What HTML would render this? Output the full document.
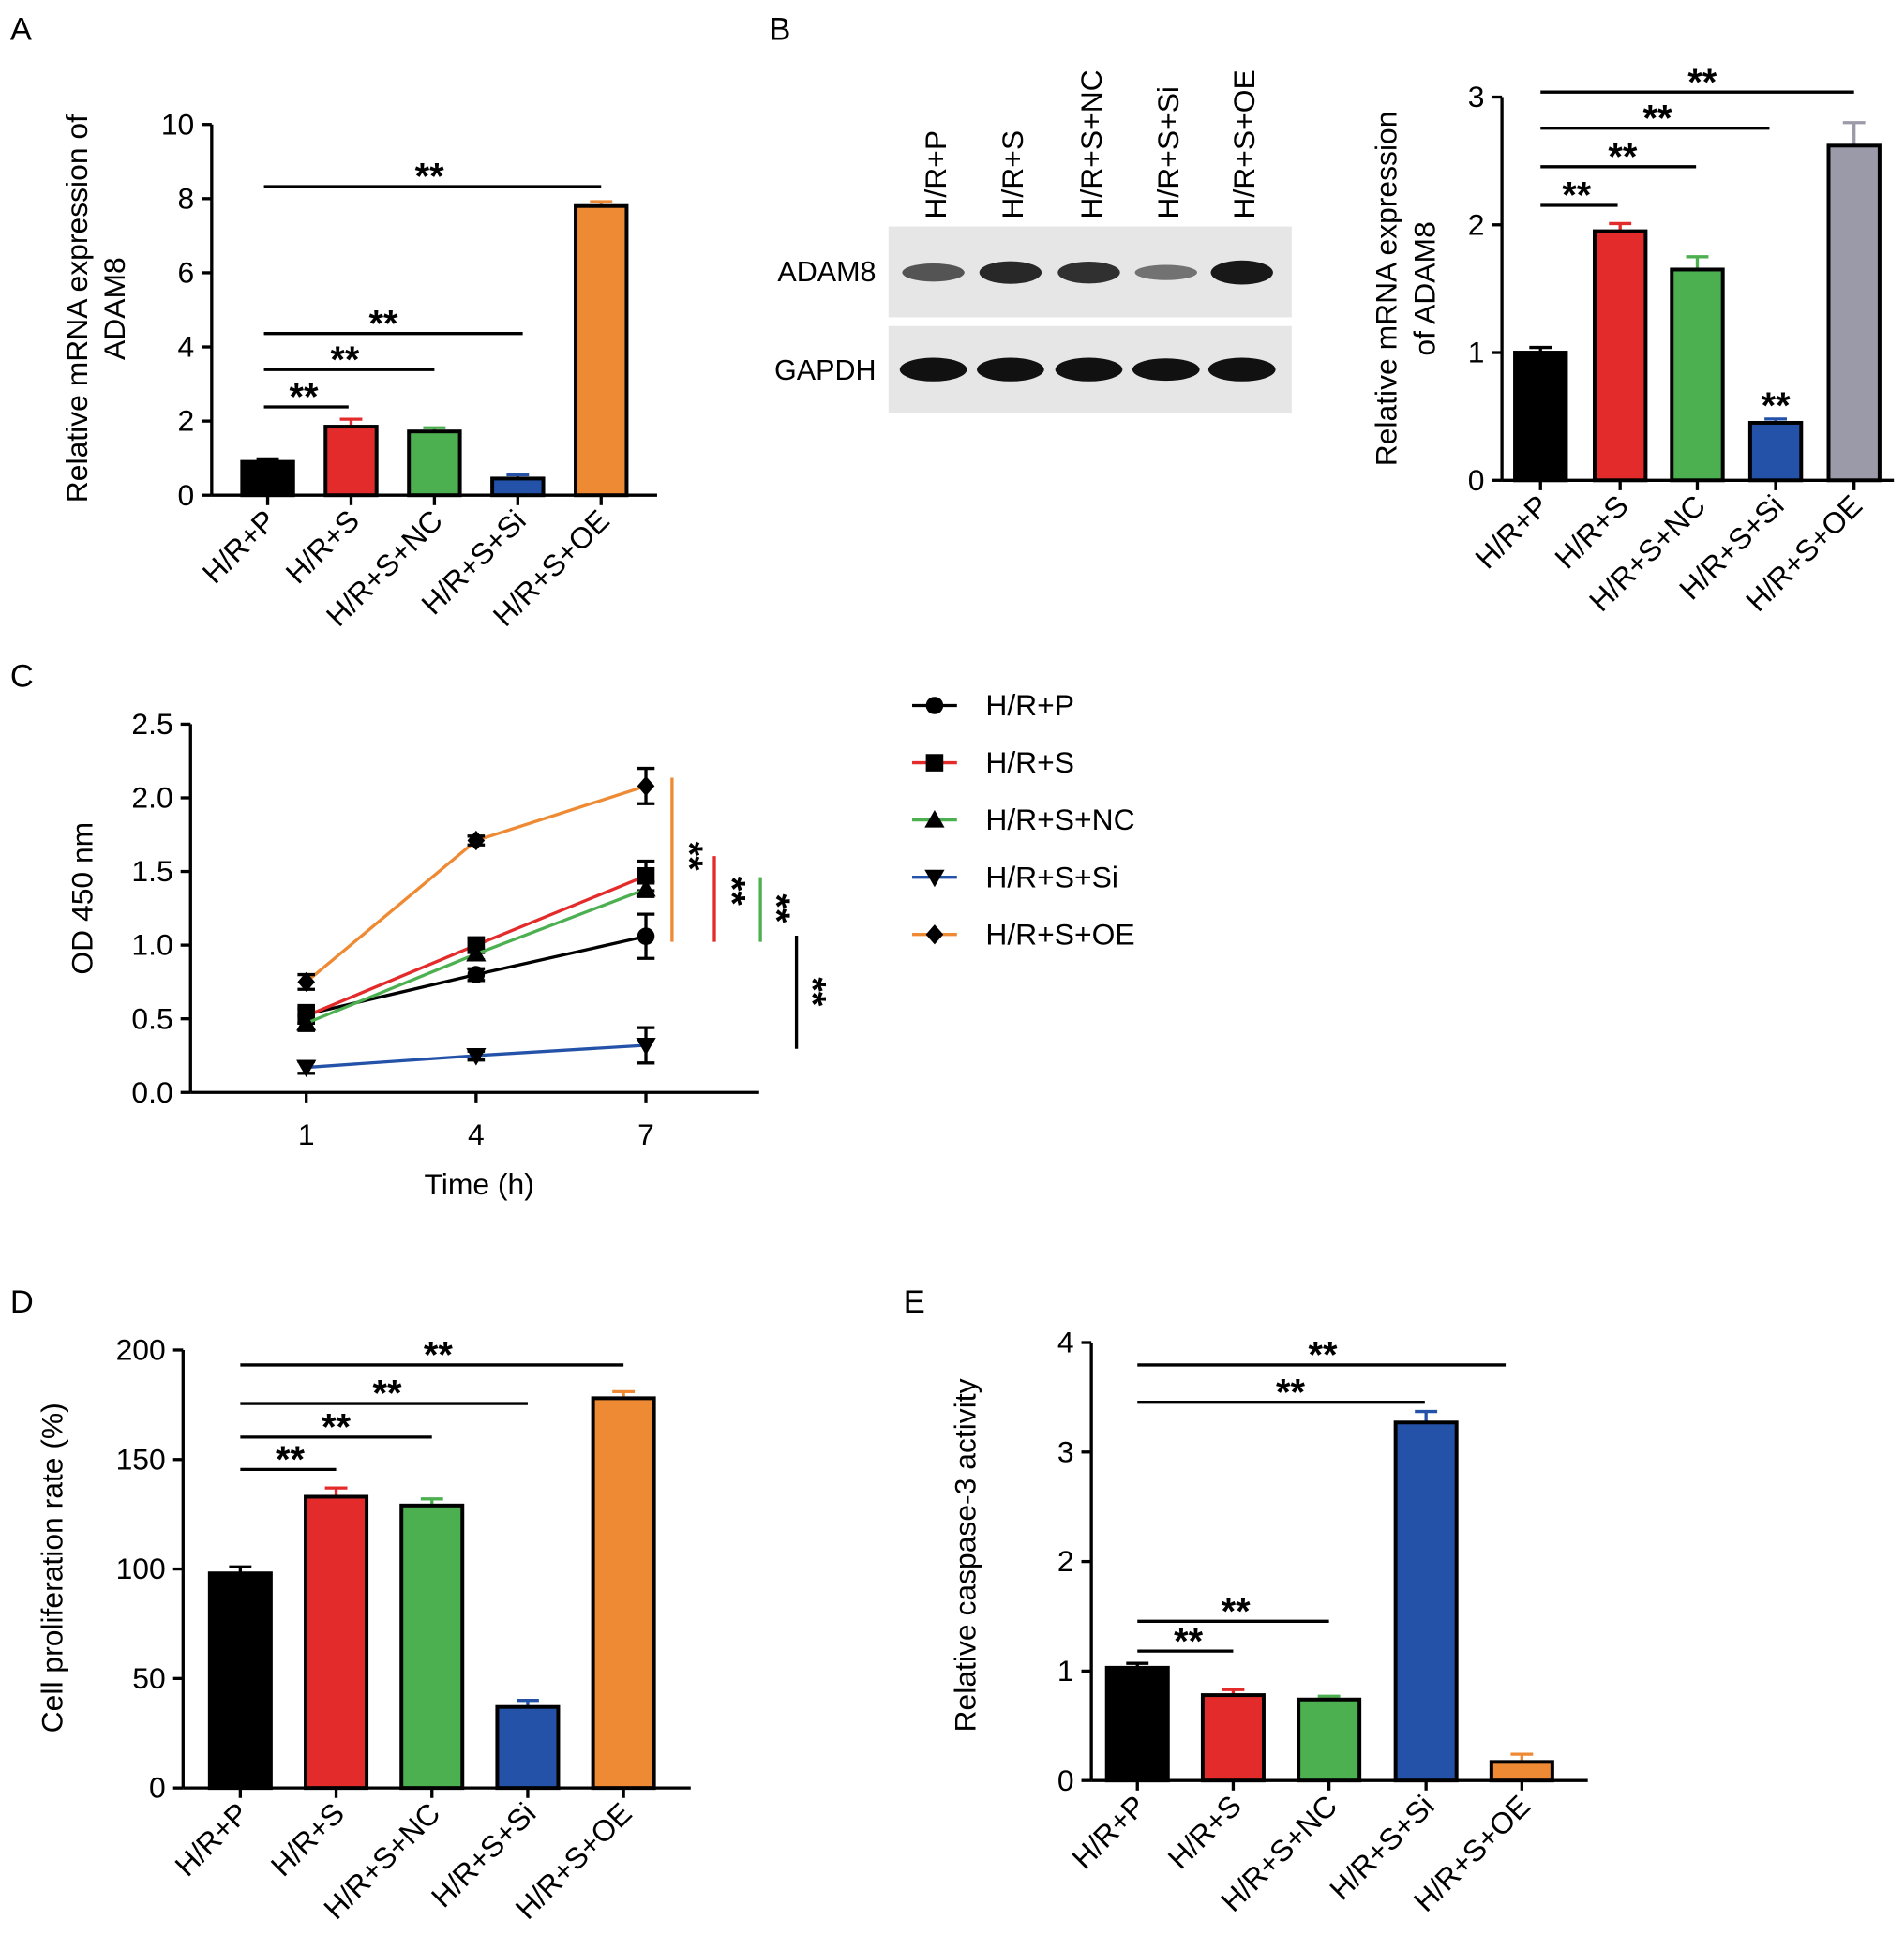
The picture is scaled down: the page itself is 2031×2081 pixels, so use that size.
<!DOCTYPE html>
<html><head><meta charset="utf-8">
<style>
html,body{margin:0;padding:0;background:#fff;}
svg{display:block;font-family:"Liberation Sans",Arial,sans-serif;}
</style></head>
<body>
<svg id="fig" width="2031" height="2081" viewBox="0 0 1530 1568" xmlns="http://www.w3.org/2000/svg">
<rect width="1530" height="1568" fill="#fff"/>
<g font-size="26" fill="#000">
<text x="8" y="32">A</text>
<text x="618" y="32">B</text>
<text x="8" y="552">C</text>
<text x="8" y="1055">D</text>
<text x="726" y="1055">E</text>
</g>
<g id="blot">
<rect x="714" y="182" width="324" height="73" fill="#e6e6e6"/>
<rect x="714" y="262" width="324" height="70" fill="#e6e6e6"/>
<text x="704" y="226" font-size="23" text-anchor="end">ADAM8</text>
<text x="704" y="305" font-size="23" text-anchor="end">GAPDH</text>
</g>
</svg>
<script>
const NS='http://www.w3.org/2000/svg';
const svg=document.getElementById('fig');
function mk(tag,attrs,parent){const e=document.createElementNS(NS,tag);for(const k in attrs)e.setAttribute(k,attrs[k]);(parent||svg).appendChild(e);return e;}
const COLORS=['#000000','#e32b2b','#4caf50','#2352a8','#ef8a34'];
const cats=['H/R+P','H/R+S','H/R+S+NC','H/R+S+Si','H/R+S+OE'];
const FS=24, SS=30;

const aValues=[0.9,1.85,1.72,0.45,7.8];
const aErrors=[0.08,0.2,0.1,0.1,0.12];
const aTicks=[0,2,4,6,8,10];
const bValues=[1.0,1.95,1.65,0.45,2.62];
const bErrors=[0.04,0.06,0.1,0.03,0.18];
const bTicks=[0,1,2,3];
const blotAdam8=[0.55,0.85,0.8,0.35,0.95];
const blotGapdh=[0.95,0.95,0.95,0.9,0.95];
const cTimes=[1,4,7];
const cP=[0.53,0.8,1.06];const cPErr=[0.06,0.04,0.15];
const cS=[0.52,1.0,1.47];const cSErr=[0.05,0.05,0.1];
const cNC=[0.47,0.94,1.38];const cNCErr=[0.05,0.04,0.05];
const cSi=[0.17,0.25,0.32];const cSiErr=[0.04,0.03,0.12];
const cOE=[0.75,1.71,2.08];const cOEErr=[0.05,0.03,0.12];
const cTicks=[0,0.5,1.0,1.5,2.0,2.5];
const dValues=[98,133,129,37,178];
const dErrors=[3,4,3,3,3];
const dTicks=[0,50,100,150,200];
const eValues=[1.03,0.78,0.74,3.27,0.17];
const eErrors=[0.04,0.05,0.03,0.1,0.07];
const eTicks=[0,1,2,3,4];

function barPanel(p){
  const g=mk('g',{});
  
  
  const y=v=>p.y0-(v-p.min)/(p.max-p.min)*(p.y0-p.yTop);
  mk('line',{x1:p.x0,y1:p.yTop,x2:p.x0,y2:p.y0,stroke:'#000','stroke-width':2.5},g);
  mk('line',{x1:p.x0,y1:p.y0,x2:p.x1,y2:p.y0,stroke:'#000','stroke-width':2.5},g);
  p.ticks.forEach(t=>{
    mk('line',{x1:p.x0-8,y1:y(t),x2:p.x0,y2:y(t),stroke:'#000','stroke-width':2.5},g);
    const tx=mk('text',{x:p.x0-14,y:y(t)+8,'font-size':FS,'text-anchor':'end'},g);tx.textContent=t;
    
    
  });
  p.values.forEach((v,i)=>{
    const cx=p.cx[i],c=p.colors[i];
    const e=p.errors[i];
    mk('line',{x1:cx,y1:y(v),x2:cx,y2:y(v+e),stroke:c,'stroke-width':2.5},g);
    mk('line',{x1:cx-9,y1:y(v+e),x2:cx+9,y2:y(v+e),stroke:c,'stroke-width':2.5},g);
    const r=mk('rect',{x:cx-p.bw/2+1.5,y:y(v),width:p.bw-3,height:y(p.min)-y(v),fill:c,stroke:'#000','stroke-width':3},g);
    
    
    mk('line',{x1:cx,y1:p.y0,x2:cx,y2:p.y0+8,stroke:'#000','stroke-width':2.5},g);
    const t=mk('text',{x:0,y:0,'font-size':FS,'text-anchor':'end',transform:`translate(${cx+8},${p.y0+22}) rotate(-45)`},g);
    t.textContent=cats[i];
    
    
  });
  p.sig.forEach(s=>{
    mk('line',{x1:s[0],y1:s[2],x2:s[1],y2:s[2],stroke:'#000','stroke-width':2.5},g);
    const t=mk('text',{x:s[3],y:s[2]+2,'font-size':SS,'font-weight':'bold','text-anchor':'middle'},g);t.textContent='**';
    
    
  });
  p.ylab.forEach((l,k)=>{
    const t=mk('text',{x:0,y:0,'font-size':FS,'text-anchor':'middle',transform:`translate(${l[1]},${p.ylabY}) rotate(-90)`},g);
    t.textContent=l[0];
    
    
  });
  return {g,y};
}
barPanel({name:'panel-a-chart',x0:170,x1:528,y0:398,yTop:100,min:0,max:10,ticks:aTicks,values:aValues,errors:aErrors,
  cx:[215,282,349,416,483],bw:44,colors:COLORS,
  sig:[[212,483,150,345],[212,420,268,308],[212,349,297,277],[212,280,327,244]],
  ylab:[['Relative mRNA expression of',70],['ADAM8',100]],ylabY:248});
const pb=barPanel({name:'panel-b-chart',x0:1207,x1:1522,y0:386,yTop:78,min:0,max:3,ticks:bTicks,values:bValues,errors:bErrors,
  cx:[1238,1302,1364,1427,1490],bw:44,colors:['#000','#e32b2b','#4caf50','#2352a8','#9b9aa8'],
  sig:[[1238,1490,74,1368],[1238,1422,103,1332],[1238,1363,134,1304],[1238,1300,165,1267]],
  ylab:[['Relative mRNA expression',1122],['of ADAM8',1153]],ylabY:232});
{const t=mk('text',{x:1427,y:336,'font-size':SS,'font-weight':'bold','text-anchor':'middle'},pb.g);t.textContent='**';

}
barPanel({name:'panel-d-chart',x0:147,x1:555,y0:1437,yTop:1085,min:0,max:200,ticks:dTicks,values:dValues,errors:dErrors,
  cx:[193,270,347,424,501],bw:52,colors:COLORS,
  sig:[[193,501,1097,352],[193,424,1128,311],[193,347,1155,270],[193,270,1181,233]],
  ylab:[['Cell proliferation rate (%)',50]],ylabY:1260});
barPanel({name:'panel-e-chart',x0:877,x1:1276,y0:1431,yTop:1079,min:0,max:4,ticks:eTicks,values:eValues,errors:eErrors,
  cx:[914,991,1068,1146,1223],bw:52,colors:COLORS,
  sig:[[914,1210,1097,1063],[914,1145,1127,1037],[914,1068,1303,993],[914,991,1327,955]],
  ylab:[['Relative caspase-3 activity',784]],ylabY:1250});

const blot=document.getElementById('blot');
const laneX=[750,812,875,937,998];
laneX.forEach((x,i)=>{
  const a=mk('ellipse',{cx:x,cy:219,rx:25,ry:4+6*blotAdam8[i],fill:'#111','fill-opacity':0.3+0.7*blotAdam8[i]},blot);
  
  
  const b=mk('ellipse',{cx:x,cy:297,rx:27,ry:10*blotGapdh[i],fill:'#111'},blot);
  
  
  const t=mk('text',{x:0,y:0,'font-size':FS,transform:`translate(${x+10},176) rotate(-90)`},blot);
  t.textContent=cats[i];
  
  
});

{
const g=mk('g',{});


const x0=153,x1=610,y0=878,yTop=582,ymax=2.5;
const xs=t=>246+(t-1)/6*(519-246);
const ys=v=>y0-v/ymax*(y0-yTop);
mk('line',{x1:x0,y1:yTop,x2:x0,y2:y0,stroke:'#000','stroke-width':2.5},g);
mk('line',{x1:x0,y1:y0,x2:x1,y2:y0,stroke:'#000','stroke-width':2.5},g);
cTicks.forEach(t=>{
  mk('line',{x1:x0-8,y1:ys(t),x2:x0,y2:ys(t),stroke:'#000','stroke-width':2.5},g);
  const tx=mk('text',{x:x0-14,y:ys(t)+8,'font-size':FS,'text-anchor':'end'},g);tx.textContent=t.toFixed(1);
  
  
});
cTimes.forEach(t=>{
  mk('line',{x1:xs(t),y1:y0,x2:xs(t),y2:y0+8,stroke:'#000','stroke-width':2.5},g);
  const tx=mk('text',{x:xs(t),y:y0+42,'font-size':FS,'text-anchor':'middle'},g);tx.textContent=t;
  
  
});
let tt=mk('text',{x:385,y:960,'font-size':FS,'text-anchor':'middle'},g);tt.textContent='Time (h)';


tt=mk('text',{x:0,y:0,'font-size':FS,'text-anchor':'middle',transform:'translate(74,722) rotate(-90)'},g);tt.textContent='OD 450 nm';


const series=[[cP,cPErr,'#000','circle'],[cS,cSErr,'#e32b2b','square'],[cNC,cNCErr,'#4caf50','tri'],[cSi,cSiErr,'#2352a8','dtri'],[cOE,cOEErr,'#ef8a34','diamond']];
function marker(shape,x,y,par){
  let m;
  if(shape==='circle')m=mk('circle',{cx:x,cy:y,r:7,fill:'#000'},par);
  else if(shape==='square')m=mk('rect',{x:x-7,y:y-7,width:14,height:14,fill:'#000'},par);
  else if(shape==='tri')m=mk('polygon',{points:`${x},${y-8} ${x-8},${y+6} ${x+8},${y+6}`,fill:'#000'},par);
  else if(shape==='dtri')m=mk('polygon',{points:`${x},${y+8} ${x-8},${y-6} ${x+8},${y-6}`,fill:'#000'},par);
  else m=mk('polygon',{points:`${x},${y-8} ${x+7},${y} ${x},${y+8} ${x-7},${y}`,fill:'#000'},par);
  return m;
}
series.forEach((s,si)=>{
  const pts=cTimes.map((t,i)=>xs(t)+','+ys(s[0][i])).join(' ');
  const pl=mk('polyline',{points:pts,fill:'none',stroke:s[2],'stroke-width':2.5},g);
  
  
  cTimes.forEach((t,i)=>{
    const x=xs(t),v=s[0][i],e=s[1][i];
    mk('line',{x1:x,y1:ys(v-e),x2:x,y2:ys(v+e),stroke:'#000','stroke-width':2.5},g);
    mk('line',{x1:x-7,y1:ys(v+e),x2:x+7,y2:ys(v+e),stroke:'#000','stroke-width':2.5},g);
    mk('line',{x1:x-7,y1:ys(v-e),x2:x+7,y2:ys(v-e),stroke:'#000','stroke-width':2.5},g);
    const m=marker(s[3],x,ys(v),g);
    
    
  });
  const ly=567+si*46;
  mk('line',{x1:733,y1:ly,x2:769,y2:ly,stroke:s[2],'stroke-width':2.5},g);
  const lm=marker(s[3],751,ly,g);
  
  
  const lt=mk('text',{x:792,y:ly+8,'font-size':FS},g);lt.textContent=cats[si];
  
  
});
[[540,625,757,'#ef8a34',556,688],[574,688,757,'#e32b2b',590,716],[611,705,757,'#4caf50',626,730],[640,752,843,'#000',655,797]].forEach(s=>{
  mk('line',{x1:s[0],y1:s[1],x2:s[0],y2:s[2],stroke:s[3],'stroke-width':2.5},g);
  const t=mk('text',{x:0,y:0,'font-size':SS,'font-weight':'bold','text-anchor':'middle',transform:`translate(${s[4]-12},${s[5]}) rotate(90)`},g);t.textContent='**';
  
  
});
}
</script>
</body></html>
